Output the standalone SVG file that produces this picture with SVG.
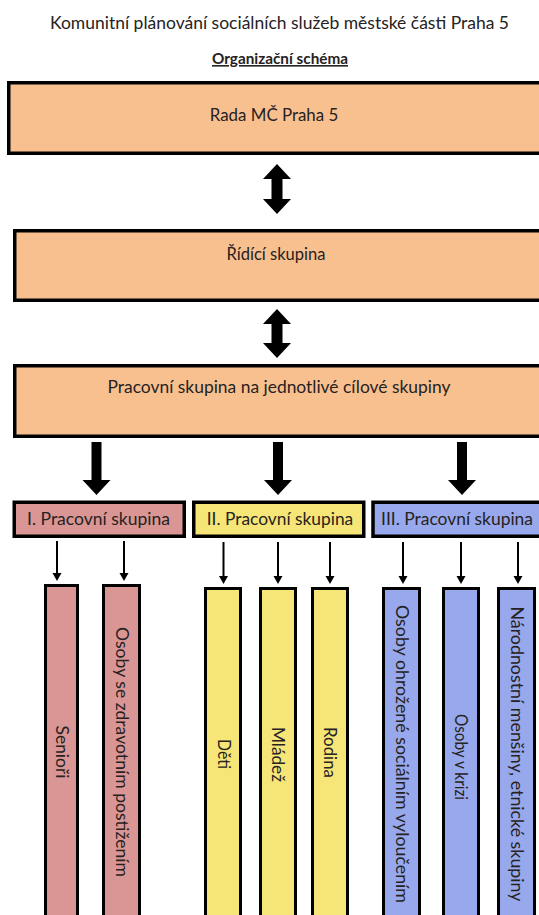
<svg xmlns="http://www.w3.org/2000/svg" width="539" height="915" viewBox="0 0 539 915">
<style>
text{font-family:Lato,"Liberation Sans",sans-serif;fill:#262222;}
.t{font-size:18px;text-anchor:middle;}
.v{font-size:18px;text-anchor:middle;}
.box{stroke:#000;stroke-width:3.5;}
.col{stroke:#000;stroke-width:3;}
.or{fill:#F9C08F;}
.pk{fill:#DA9694;}
.ye{fill:#F6E677;}
.bl{fill:#97A9EC;}
.arr{fill:#000;}
.thin{stroke:#000;stroke-width:2;fill:none;}
</style>
<rect width="539" height="915" fill="#fff"/>
<g id="title"><text class="t" x="279.5" y="28.5" textLength="459" lengthAdjust="spacingAndGlyphs">Komunitní plánování sociálních služeb městské části Praha 5</text></g>
<g id="subtitle"><text class="t" x="280" y="64" style="font-size:16px;font-weight:bold;text-decoration:underline" textLength="136" lengthAdjust="spacingAndGlyphs">Organizační schéma</text></g>
<g id="rada"><rect class="box or" x="8.75" y="82.75" width="560" height="70.5"/><text class="t" x="274" y="121" textLength="128.5" lengthAdjust="spacingAndGlyphs">Rada MČ Praha 5</text></g>
<g id="ridici"><rect class="box or" x="14.75" y="230.75" width="560" height="69.5"/><text class="t" x="276" y="260" textLength="99" lengthAdjust="spacingAndGlyphs">Řídící skupina</text></g>
<g id="pracovni"><rect class="box or" x="14.75" y="365.75" width="560" height="70.5"/><text class="t" x="279" y="393" textLength="343" lengthAdjust="spacingAndGlyphs">Pracovní skupina na jednotlivé cílové skupiny</text></g>
<g id="group1"><rect class="box pk" x="14.25" y="502.25" width="170" height="34"/><text class="t" x="98.5" y="525" textLength="143" lengthAdjust="spacingAndGlyphs">I. Pracovní skupina</text></g>
<g id="group2"><rect class="box ye" x="193.75" y="502.25" width="170" height="34"/><text class="t" x="280" y="525" textLength="146.5" lengthAdjust="spacingAndGlyphs">II. Pracovní skupina</text></g>
<g id="group3"><rect class="box bl" x="373" y="502.25" width="190" height="34"/><text class="t" x="457" y="525" textLength="152" lengthAdjust="spacingAndGlyphs">III. Pracovní skupina</text></g>
<g id="seniori"><rect class="col pk" x="45.5" y="585.5" width="32" height="340"/><text class="v" transform="translate(61.5,752) rotate(90)" y="6" textLength="53" lengthAdjust="spacingAndGlyphs">Senioři</text></g>
<g id="zdrav"><rect class="col pk" x="103.5" y="585.5" width="36" height="340"/><text class="v" transform="translate(122,752) rotate(90)" y="6" textLength="250" lengthAdjust="spacingAndGlyphs">Osoby se zdravotním postižením</text></g>
<g id="deti"><rect class="col ye" x="205.5" y="588.5" width="35" height="340"/><text class="v" transform="translate(223.5,754) rotate(90)" y="6" textLength="30" lengthAdjust="spacingAndGlyphs">Děti</text></g>
<g id="mladez"><rect class="col ye" x="260.5" y="588.5" width="35" height="340"/><text class="v" transform="translate(278,754.5) rotate(90)" y="6" textLength="55" lengthAdjust="spacingAndGlyphs">Mládež</text></g>
<g id="rodina"><rect class="col ye" x="312.5" y="588.5" width="35" height="340"/><text class="v" transform="translate(330,752.5) rotate(90)" y="6" textLength="51" lengthAdjust="spacingAndGlyphs">Rodina</text></g>
<g id="ohrozene"><rect class="col bl" x="383.5" y="588.5" width="36" height="340"/><text class="v" transform="translate(402,754) rotate(90)" y="6" textLength="298" lengthAdjust="spacingAndGlyphs">Osoby ohrožené sociálním vyloučením</text></g>
<g id="krize"><rect class="col bl" x="443.5" y="588.5" width="35" height="340"/><text class="v" transform="translate(461,757) rotate(90)" y="6" textLength="86" lengthAdjust="spacingAndGlyphs">Osoby v krizi</text></g>
<g id="narodnostni"><rect class="col bl" x="498.5" y="588.5" width="36" height="340"/><text class="v" transform="translate(517,754) rotate(90)" y="6" textLength="295" lengthAdjust="spacingAndGlyphs">Národnostní menšiny, etnické skupiny</text></g>
<g id="connectors">
<polygon class="arr" points="277,164 291,179 282.5,179 282.5,199 291,199 277,214 263,199 271.5,199 271.5,179 263,179"/>
<polygon class="arr" points="277,309 291,324 282.5,324 282.5,343 291,343 277,358 263,343 271.5,343 271.5,324 263,324"/>
<polygon class="arr" points="91.5,442 101.5,442 101.5,480 110.5,480 96.5,495 82.5,480 91.5,480"/>
<polygon class="arr" points="273,442 283,442 283,480 292,480 278,495 264,480 273,480"/>
<polygon class="arr" points="457,442 467,442 467,480 476,480 462,495 448,480 457,480"/>
<g class="thin">
<line x1="57" y1="541" x2="57" y2="575"/><line x1="124" y1="541" x2="124" y2="575"/>
<line x1="223.5" y1="542" x2="223.5" y2="578"/><line x1="278" y1="542" x2="278" y2="578"/><line x1="330" y1="542" x2="330" y2="578"/>
<line x1="403" y1="542" x2="403" y2="578"/><line x1="461" y1="542" x2="461" y2="578"/><line x1="518" y1="542" x2="518" y2="578"/>
</g>
<polygon class="arr" points="52.5,573 61.5,573 57,581"/>
<polygon class="arr" points="119.5,573 128.5,573 124,581"/>
<polygon class="arr" points="219,576 228,576 223.5,584"/>
<polygon class="arr" points="273.5,576 282.5,576 278,584"/>
<polygon class="arr" points="325.5,576 334.5,576 330,584"/>
<polygon class="arr" points="398.5,576 407.5,576 403,584"/>
<polygon class="arr" points="456.5,576 465.5,576 461,584"/>
<polygon class="arr" points="513.5,576 522.5,576 518,584"/>
</g>
</svg>
